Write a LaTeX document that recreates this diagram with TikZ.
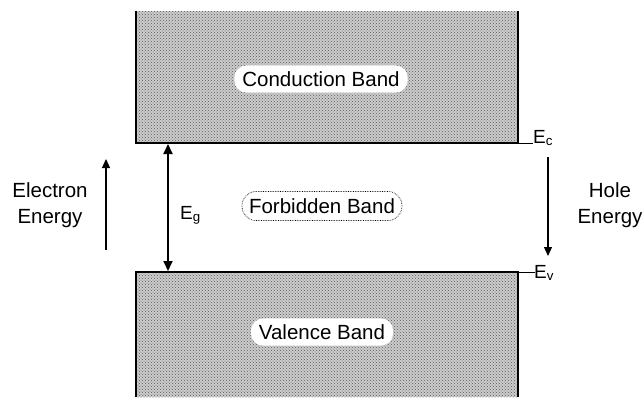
\documentclass[tikz,border=0pt]{standalone}
\usepackage{fontspec}
\setmainfont{Liberation Sans}
\usetikzlibrary{patterns,arrows.meta}
\begin{document}
\begin{tikzpicture}[x=1pt,y=-1pt,
  txt/.style={font=\fontsize{20.5}{23}\selectfont, inner sep=0pt, align=center},
  etxt/.style={font=\fontsize{19}{22}\selectfont, inner sep=0pt, anchor=base west},
  bandlabel/.style={txt, fill=white, rounded corners=12pt, inner xsep=8pt, inner ysep=6pt},
  bandfill/.style={fill=gray!40, postaction={pattern=crosshatch dots, pattern color=gray!70!black}},
  edge/.style={line width=2.5pt},
  thinln/.style={line width=0.8pt},
  arr/.style={line width=1.2pt, -{Triangle[length=9pt,width=8pt]}}]
\useasboundingbox (0,0) rectangle (642,397);
% bands
\fill[bandfill] (136,11) rectangle (518,143);
\fill[bandfill] (136,272) rectangle (518,397);
\draw[edge] (136,11) -- (136,143) -- (518,143) -- (518,11);
\draw[edge] (136,397) -- (136,272) -- (518,272) -- (518,397);
\node[bandlabel] (cb) at (321,79) {Conduction Band};
\node[bandlabel] (vb) at (322,332) {Valence Band};
% levels
\coordinate (ecs) at (518,143);
\coordinate (ece) at (533,143);
\coordinate (evs) at (518,272);
\coordinate (eve) at (535,272);
\draw[thinln] (ecs) -- (ece);
\draw[thinln] (evs) -- (eve);
\node[etxt] (ec) at (533,143) {E\textsubscript{c}};
\node[etxt] (ev) at (534,278) {E\textsubscript{v}};
% gap arrow
\coordinate (gt) at (168,144);
\coordinate (gb) at (168,271);
\draw[line width=1.8pt, {Triangle[length=10pt,width=9pt]}-{Triangle[length=10pt,width=9pt]}] (gt) -- (gb);
\node[etxt] (eg) at (180,219) {E\textsubscript{g}};
% forbidden band
\node[txt, draw, densely dotted, line width=0.7pt, rounded corners=14pt, inner xsep=7pt, inner ysep=7pt] (fb) at (322,206) {Forbidden Band};
% electron energy
\coordinate (ea) at (106,250);
\coordinate (eb) at (106,159);
\draw[arr] (ea) -- (eb);
\node[txt] (el) at (50,205) {Electron\\[3pt]Energy};
% hole energy
\coordinate (ha) at (548,157);
\coordinate (hb) at (548,256);
\draw[arr] (ha) -- (hb);
\node[txt] (hl) at (610,205) {Hole\\[3pt]Energy};
\end{tikzpicture}
\end{document}
